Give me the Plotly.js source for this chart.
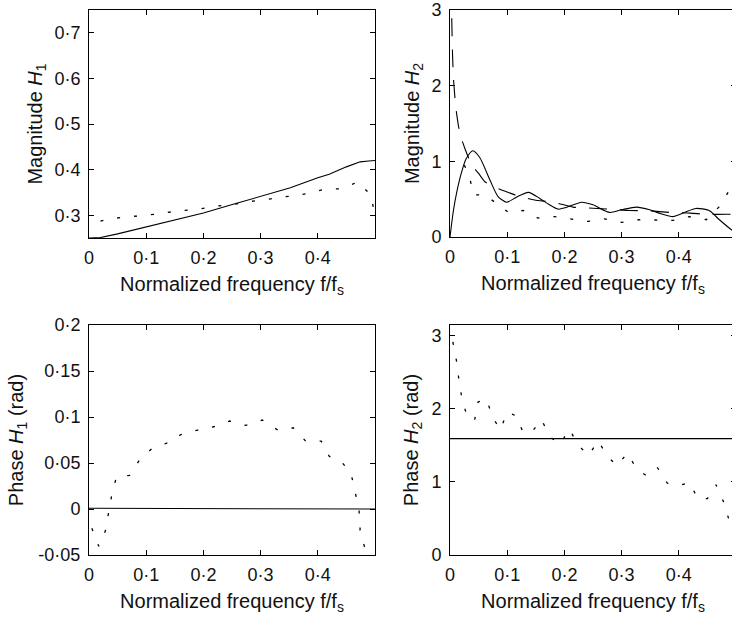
<!DOCTYPE html>
<html>
<head>
<meta charset="utf-8">
<script src="https://cdn.plot.ly/plotly-3.0.1.min.js"></script>
<style>
  html, body { margin: 0; padding: 0; overflow: hidden; background: #fff; }
  #chart { width: 740px; height: 624px; }
</style>
</head>
<body>
<div id="chart"></div>
<script>
// ---- Panel 1: Magnitude H1 ----
const freqMag1Solid = [0, 0.02, 0.05, 0.1, 0.15, 0.2, 0.252, 0.3, 0.352, 0.4, 0.42, 0.45, 0.474, 0.489, 0.5];
const mag1Solid = [0.25, 0.251, 0.259, 0.274, 0.289, 0.305, 0.324, 0.341, 0.36, 0.382, 0.39, 0.406, 0.417, 0.419, 0.42];
const freqMag1Dotted = [0.02, 0.03, 0.06, 0.094, 0.127, 0.159, 0.191, 0.223, 0.255, 0.287, 0.318, 0.349, 0.381, 0.411, 0.442, 0.47, 0.493, 0.499];
const mag1Dotted = [0.287, 0.29, 0.296, 0.299, 0.304, 0.31, 0.313, 0.32, 0.324, 0.331, 0.336, 0.342, 0.347, 0.357, 0.358, 0.373, 0.344, 0.304];

// ---- Panel 2: Magnitude H2 ----
const freqMag2Solid = [0, 0.006, 0.012, 0.02, 0.028, 0.04, 0.052, 0.07, 0.084, 0.099, 0.116, 0.137, 0.157, 0.174, 0.189, 0.203, 0.23, 0.25, 0.279, 0.3, 0.326, 0.349, 0.369, 0.39, 0.41, 0.43, 0.453, 0.471, 0.492, 0.5];
const mag2Solid = [0, 0.35, 0.6, 0.85, 1.03, 1.14, 1.05, 0.75, 0.535, 0.46, 0.526, 0.59, 0.51, 0.425, 0.368, 0.39, 0.46, 0.425, 0.325, 0.36, 0.395, 0.36, 0.307, 0.27, 0.325, 0.377, 0.35, 0.228, 0.096, 0.06];
const freqMag2Chain = [0.002, 0.003, 0.0045, 0.006, 0.008, 0.01, 0.015, 0.02, 0.026, 0.038, 0.05, 0.061, 0.075, 0.087, 0.105, 0.122, 0.148, 0.183, 0.215, 0.25, 0.28, 0.314, 0.349, 0.384, 0.42, 0.448, 0.483, 0.5];
const mag2Chain = [3.3, 2.9, 2.4, 2.1, 1.9, 1.72, 1.46, 1.3, 1.17, 0.95, 0.84, 0.73, 0.67, 0.63, 0.58, 0.535, 0.49, 0.456, 0.395, 0.38, 0.368, 0.35, 0.346, 0.325, 0.316, 0.3, 0.3, 0.3];
const freqMag2Dotted = [0.025, 0.034, 0.041, 0.06, 0.081, 0.102, 0.128, 0.154, 0.183, 0.212, 0.241, 0.27, 0.3, 0.33, 0.36, 0.39, 0.419, 0.448, 0.47, 0.487, 0.5];
const mag2Dotted = [0.95, 0.8, 0.557, 0.557, 0.447, 0.325, 0.35, 0.25, 0.27, 0.24, 0.206, 0.24, 0.193, 0.228, 0.22, 0.22, 0.27, 0.228, 0.395, 0.6, 0.7];

// ---- Panel 3: Phase H1 ----
const freqPh1Solid = [0, 0.055, 0.06, 0.5];
const ph1Solid = [0.0008, 0.0008, 0, 0];
const freqPh1Dotted = [0.005, 0.017, 0.0285, 0.034, 0.04, 0.048, 0.071, 0.088, 0.11, 0.138, 0.161, 0.19, 0.218, 0.246, 0.274, 0.303, 0.33, 0.357, 0.379, 0.406, 0.42, 0.443, 0.458, 0.465, 0.472, 0.474, 0.482];
const ph1Dotted = [-0.021, -0.0405, -0.024, -0.005, 0.016, 0.035, 0.0365, 0.053, 0.0657, 0.072, 0.081, 0.0858, 0.0894, 0.0956, 0.0909, 0.0967, 0.0858, 0.0883, 0.0737, 0.0737, 0.0573, 0.05, 0.039, 0.019, 0, -0.023, -0.042];

// ---- Panel 4: Phase H2 ----
const freqPh2Solid = [0, 0.5];
const ph2Solid = [1.59, 1.59];
const freqPh2Dotted = [0.005, 0.0116, 0.0157, 0.021, 0.03, 0.043, 0.049, 0.064, 0.074, 0.088, 0.1, 0.116, 0.128, 0.145, 0.16, 0.174, 0.192, 0.209, 0.223, 0.242, 0.259, 0.275, 0.292, 0.31, 0.326, 0.344, 0.363, 0.38, 0.4, 0.419, 0.433, 0.45, 0.465, 0.478, 0.487];
const ph2Dotted = [2.91, 2.64, 2.385, 2.13, 1.89, 1.84, 2.09, 2.13, 1.89, 1.71, 1.95, 1.9, 1.67, 1.7, 1.85, 1.62, 1.51, 1.72, 1.51, 1.36, 1.56, 1.35, 1.22, 1.39, 1.18, 1.08, 1.19, 0.98, 0.95, 0.99, 0.77, 0.77, 0.96, 0.73, 0.5];

// ---- Ticks ----
const freqTickVals = [0, 0.1, 0.2, 0.3, 0.4];
const freqTickText = ['0', '0·1', '0·2', '0·3', '0·4'];
const mag1TickVals = [0.3, 0.4, 0.5, 0.6, 0.7];
const mag1TickText = ['0·3', '0·4', '0·5', '0·6', '0·7'];
const mag2TickVals = [0, 1, 2, 3];
const mag2TickText = ['0', '1', '2', '3'];
const ph1TickVals = [-0.05, 0, 0.05, 0.1, 0.15, 0.2];
const ph1TickText = ['-0·05', '0', '0·05', '0·1', '0·15', '0·2'];
const ph2TickVals = [0, 1, 2, 3];
const ph2TickText = ['0', '1', '2', '3'];

const W = 740, H = 624;
const FAMILY = 'Liberation Sans, Arial, Helvetica, sans-serif';
const TICKFONT = {family: FAMILY, size: 18, color: '#111'};
const TITLEFONT = {family: FAMILY, size: 20, color: '#111'};
const xTitle = 'Normalized frequency f/f<sub>s</sub>';

function xd(a, b) { return [a / W, b / W]; }
function yd(top, bottom) { return [(H - bottom) / H, (H - top) / H]; }

function xAxis(domain, anchor) {
  return {
    domain: domain, anchor: anchor, range: [0, 0.5],
    tickvals: freqTickVals, ticktext: freqTickText,
    ticks: 'inside', ticklen: 5, tickcolor: '#000', tickwidth: 1,
    showline: true, linecolor: '#000', linewidth: 1, mirror: 'allticks',
    showgrid: false, zeroline: false, tickfont: TICKFONT, ticklabelstandoff: 3,
    title: {text: xTitle, font: TITLEFONT, standoff: 10}
  };
}
function yAxis(domain, anchor, range, tv, tt, title, standoff) {
  return {
    domain: domain, anchor: anchor, range: range,
    tickvals: tv, ticktext: tt,
    ticks: 'inside', ticklen: 5, tickcolor: '#000', tickwidth: 1,
    showline: true, linecolor: '#000', linewidth: 1, mirror: 'allticks',
    showgrid: false, zeroline: false, tickfont: TICKFONT, ticklabelstandoff: 4,
    title: {text: title, font: TITLEFONT, standoff: standoff}
  };
}

const solid = {color: '#000', width: 1.1};
const dotted = {color: '#000', width: 1.3, dash: '3px,14px'};
const chain = {color: '#000', width: 1.1, dash: '18px,13px'};

const traces = [
  {x: freqMag1Solid, y: mag1Solid, xaxis: 'x', yaxis: 'y', mode: 'lines', line: solid},
  {x: freqMag1Dotted, y: mag1Dotted, xaxis: 'x', yaxis: 'y', mode: 'lines', line: dotted},
  {x: freqMag2Solid, y: mag2Solid, xaxis: 'x2', yaxis: 'y2', mode: 'lines', line: Object.assign({shape: 'spline', smoothing: 0.7}, solid)},
  {x: freqMag2Chain, y: mag2Chain, xaxis: 'x2', yaxis: 'y2', mode: 'lines', line: Object.assign({shape: 'spline', smoothing: 0.5}, chain)},
  {x: freqMag2Dotted, y: mag2Dotted, xaxis: 'x2', yaxis: 'y2', mode: 'lines', line: dotted},
  {x: freqPh1Solid, y: ph1Solid, xaxis: 'x3', yaxis: 'y3', mode: 'lines', line: solid},
  {x: freqPh1Dotted, y: ph1Dotted, xaxis: 'x3', yaxis: 'y3', mode: 'lines', line: dotted},
  {x: freqPh2Solid, y: ph2Solid, xaxis: 'x4', yaxis: 'y4', mode: 'lines', line: solid},
  {x: freqPh2Dotted, y: ph2Dotted, xaxis: 'x4', yaxis: 'y4', mode: 'lines', line: dotted}
];

const layout = {
  width: W, height: H,
  margin: {l: 0, r: 0, t: 0, b: 0},
  paper_bgcolor: '#fff', plot_bgcolor: '#fff',
  showlegend: false, font: TICKFONT,
  xaxis: xAxis(xd(89, 375), 'y'),
  yaxis: yAxis(yd(10, 238), 'x', [0.25, 0.75], mag1TickVals, mag1TickText, 'Magnitude <i>H</i><sub>1</sub>', 6),
  xaxis2: xAxis(xd(450, 736), 'y2'),
  yaxis2: yAxis(yd(10, 237), 'x2', [0, 3], mag2TickVals, mag2TickText, 'Magnitude <i>H</i><sub>2</sub>', 6),
  xaxis3: xAxis(xd(89, 375), 'y3'),
  yaxis3: yAxis(yd(325, 555), 'x3', [-0.05, 0.2], ph1TickVals, ph1TickText, 'Phase <i>H</i><sub>1</sub> (rad)', 9),
  xaxis4: xAxis(xd(450, 736), 'y4'),
  yaxis4: yAxis(yd(325, 555), 'x4', [0, Math.PI], ph2TickVals, ph2TickText, 'Phase <i>H</i><sub>2</sub> (rad)', 7)
};

Plotly.newPlot('chart', traces, layout, {staticPlot: true, displayModeBar: false});
</script>
</body>
</html>
